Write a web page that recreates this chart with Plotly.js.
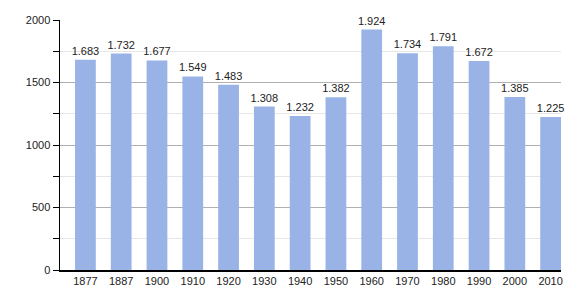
<!DOCTYPE html>
<html><head><meta charset="utf-8">
<script src="https://cdn.plot.ly/plotly-3.0.1.min.js"></script>
<style>html,body{margin:0;padding:0;background:#fff}#chart{width:580px;height:300px}</style>
</head><body><div id="chart"></div>
<script>
const years = ["1877","1887","1900","1910","1920","1930","1940","1950","1960","1970","1980","1990","2000","2010"];
const population = [1683,1732,1677,1549,1483,1308,1232,1382,1924,1734,1791,1672,1385,1225];
const yTicks = [0,500,1000,1500,2000];

Plotly.newPlot('chart', [{
  type: 'bar',
  x: years,
  y: population,
  width: 0.58,
  marker: {color: '#99b3e6', line: {width: 0}},
  texttemplate: '%{y:,}',
  textposition: 'outside',
  constraintext: 'none',
  cliponaxis: false,
  textfont: {family: 'Liberation Sans, Arial, sans-serif', size: 11, color: '#222'},
  hoverinfo: 'skip'
}], {
  width: 580, height: 300,
  margin: {l: 60, r: 19, t: 20, b: 30},
  separators: ',.',
  paper_bgcolor: '#fff', plot_bgcolor: '#fff',
  font: {family: 'Liberation Sans, Arial, sans-serif', size: 11, color: '#222'},
  showlegend: false,
  xaxis: {
    type: 'category', range: [-0.71, 13.29],
    showline: true, linecolor: '#000', linewidth: 1.5,
    ticks: '', showgrid: false, zeroline: false, fixedrange: true
  },
  yaxis: {
    range: [0, 2000], tickvals: yTicks, ticktext: yTicks.map(String),
    showline: true, linecolor: '#000', linewidth: 1.5,
    ticks: 'outside', ticklen: 6, tickcolor: '#000',
    showgrid: true, gridcolor: '#b0b0b0', gridwidth: 1,
    zeroline: false,
    minor: {dtick: 250, ticks: 'outside', ticklen: 6, tickcolor: '#000', showgrid: true, gridcolor: '#e6e6e6'},
    fixedrange: true
  },
  bargap: 0.42
}, {displayModeBar: false, staticPlot: true});
</script></body></html>
